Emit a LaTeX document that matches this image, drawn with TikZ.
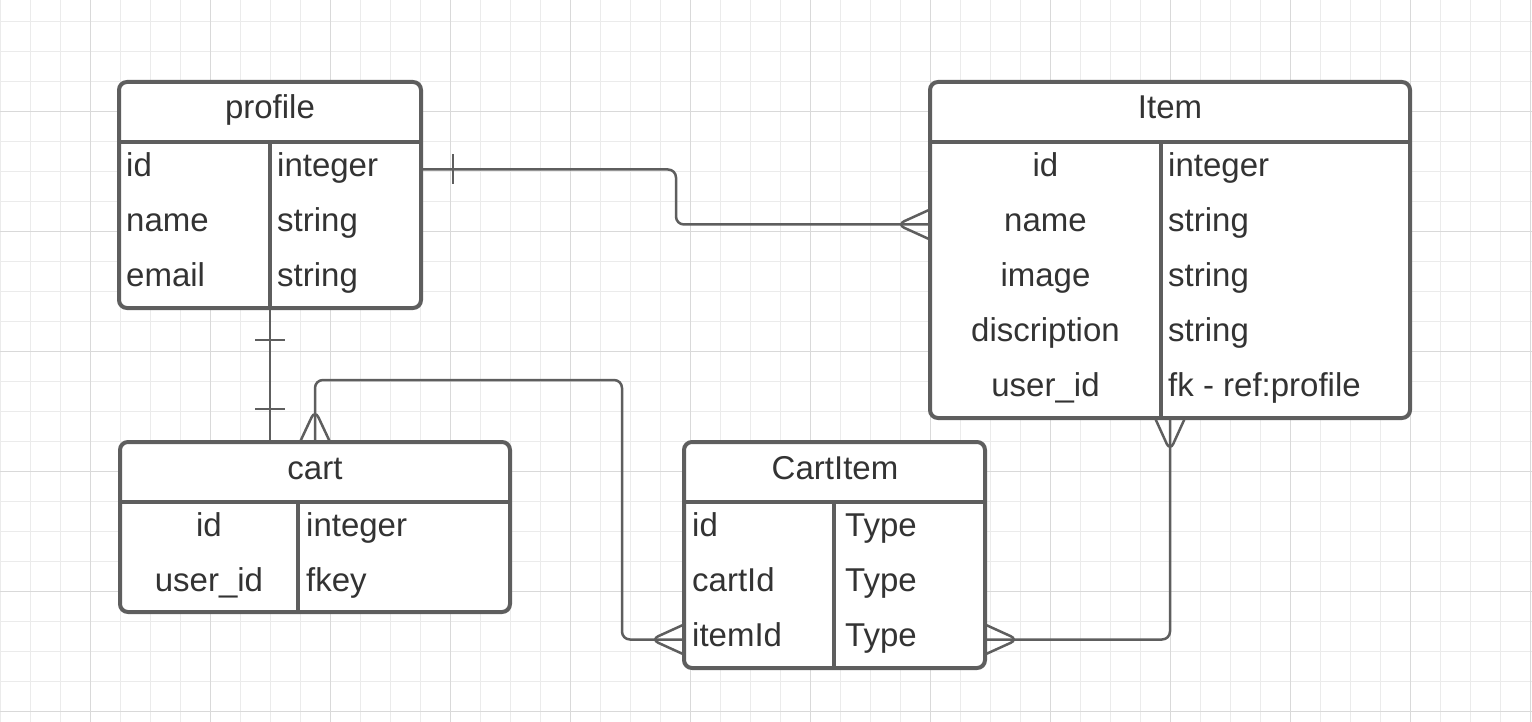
\documentclass[tikz,border=0pt]{standalone}
\usepackage{fontspec}
\setmainfont{Liberation Sans}
\definecolor{linecol}{HTML}{5E5E5E}
\definecolor{textcol}{HTML}{333333}
\definecolor{minorgrid}{HTML}{EBEBEB}
\definecolor{majorgrid}{HTML}{D9D9D9}
\tikzset{
  tbl/.style={draw=linecol, line width=4pt, rounded corners=8pt, fill=white, inner sep=0pt, outer sep=0pt, anchor=north west},
  divider/.style={draw=linecol, line width=4pt},
  link/.style={draw=linecol, line width=2.5pt, rounded corners=8pt},
  cell/.style={inner sep=0pt, text=textcol, text height=22pt, text depth=8pt, font=\fontsize{33}{40}\selectfont},
}
\begin{document}
\begin{tikzpicture}[x=1pt,y=-1pt]
        \useasboundingbox[fill=white] (0,0) rectangle (1532,722);
        \foreach \i in {0,...,51}
          \draw[minorgrid, line width=1pt] ({0.7+30*\i},0) -- ({0.7+30*\i},722);
        \foreach \i in {0,...,23}
          \draw[minorgrid, line width=1pt] (0,{21.7+30*\i}) -- (1532,{21.7+30*\i});
        \foreach \i in {0,...,12}
          \draw[majorgrid, line width=1pt] ({90.7+120*\i},0) -- ({90.7+120*\i},722);
        \foreach \i in {0,...,5}
          \draw[majorgrid, line width=1pt] (0,{111.7+120*\i}) -- (1532,{111.7+120*\i});

        % tables
        \node[tbl, minimum width=302pt, minimum height=226pt] (profile) at (119,82) {};
        \node[tbl, minimum width=480pt, minimum height=336pt] (item) at (930,82) {};
        \node[tbl, minimum width=390pt, minimum height=170pt] (cart) at (120,442) {};
        \node[tbl, minimum width=301pt, minimum height=226pt] (cartitem) at (684,442) {};

        \draw[divider] (profile.west |- 0,141.7) -- (profile.east |- 0,141.7);
        \draw[divider] (270,141.7) -- (270,0 |- profile.south);
        \draw[divider] (item.west |- 0,141.7) -- (item.east |- 0,141.7);
        \draw[divider] (1161,141.7) -- (1161,0 |- item.south);
        \draw[divider] (cart.west |- 0,501.7) -- (cart.east |- 0,501.7);
        \draw[divider] (298,501.7) -- (298,0 |- cart.south);
        \draw[divider] (cartitem.west |- 0,501.7) -- (cartitem.east |- 0,501.7);
        \draw[divider] (834,501.7) -- (834,0 |- cartitem.south);

        \node[cell] (profile-title) at (270,112) {profile};
        \node[cell] (item-title) at (1170,112) {Item};
        \node[cell] (cart-title) at (315,472) {cart};
        \node[cell] (cartitem-title) at (835,472) {CartItem};

        \foreach \n/\f/\t [count=\r] in {id/id/integer, name/name/string, email/email/string}{
          \node[cell, anchor=west] (profile-\n) at (126,{114.5+55*\r}) {\f};
          \node[cell, anchor=west] at (277,{114.5+55*\r}) {\t};
        }
        \foreach \n/\f/\t [count=\r] in {id/id/integer, name/name/string, image/image/string,
            discription/discription/string, userid/user\_id/fk - ref:profile}{
          \node[cell] (item-\n) at (1045.5,{114.5+55*\r}) {\f};
          \node[cell, anchor=west] at (1168,{114.5+55*\r}) {\t};
        }
        \foreach \n/\f/\t [count=\r] in {id/id/integer, userid/user\_id/fkey}{
          \node[cell] (cart-\n) at (209,{474.5+55*\r}) {\f};
          \node[cell, anchor=west] at (306,{474.5+55*\r}) {\t};
        }
        \foreach \n/\f/\t [count=\r] in {id/id/Type, cartid/cartId/Type, itemid/itemId/Type}{
          \node[cell, anchor=west] (cartitem-\n) at (692,{474.5+55*\r}) {\f};
          \node[cell, anchor=west] at (845,{474.5+55*\r}) {\t};
        }

        % relations
        \coordinate (bendA) at (676,0);
        \coordinate (bendB) at (622,380);
        \draw[link] (profile.east |- profile-id) -| (bendA |- item-name) -- (item.west |- item-name);
        \draw[link] (profile.east |- profile-id) ++(32,-15) -- ++(0,30);
        \draw[link] (item.west |- item-name) ++(0,-15) -- ++(-33,15) -- ++(33,15);

        \draw[link] (profile.south) -- (profile.south |- cart.north);
        \draw[link] (profile.south) ++(-15,32) -- ++(30,0);
        \draw[link] (profile.south |- cart.north) ++(-15,-33) -- ++(30,0);

        \draw[link] (cart.north) |- (bendB) |- (cartitem.west |- cartitem-itemid);
        \draw[link] (cart.north) ++(-15,0) -- ++(15,-32) -- ++(15,32);
        \draw[link] (cartitem.west |- cartitem-itemid) ++(0,-15) -- ++(-33,15) -- ++(33,15);

        \draw[link] (item.south) |- (cartitem.east |- cartitem-itemid);
        \draw[link] (item.south) ++(-15,0) -- ++(15,33) -- ++(15,-33);
        \draw[link] (cartitem.east |- cartitem-itemid) ++(0,-15) -- ++(33,15) -- ++(-33,15);
      \end{tikzpicture}
\end{document}
